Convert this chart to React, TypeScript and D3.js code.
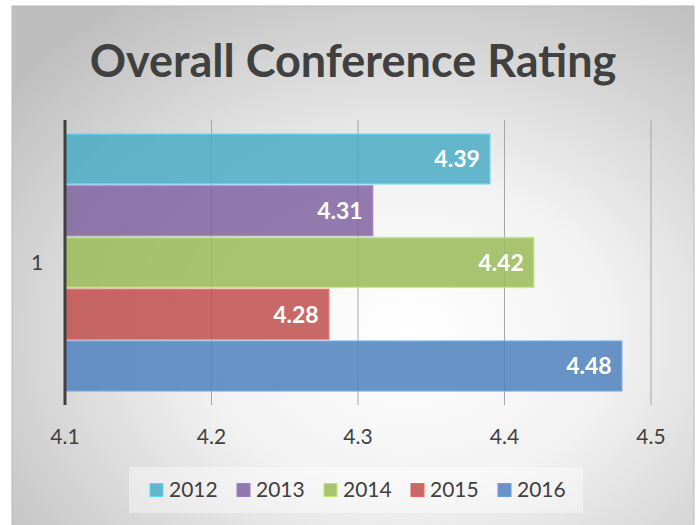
import React from "react";
import * as d3 from "d3";

const years = ["2012", "2013", "2014", "2015", "2016"];
const ratings = [4.39, 4.31, 4.42, 4.28, 4.48];
const colors = ["#4bacc6", "#8064a2", "#9bbb59", "#c0504d", "#4f81bd"];
const xTicks = [4.1, 4.2, 4.3, 4.4, 4.5];
const category = "1";

const W = 699;
const H = 525;
const font = "Lato, 'Open Sans', sans-serif";

const App = () => {
    // plot area
    const left = 65, right = 651, top = 120, bottom = 405;

    const x = d3.scaleLinear().domain([4.1, 4.5]).range([left, right]);

    // one category, five series stacked as sub-bands
    const outer = d3.scaleBand().domain([category]).range([top, bottom]).paddingInner(0).paddingOuter(0.055);
    const inner = d3.scaleBand().domain(years).range([0, outer.bandwidth()]).paddingInner(0.04);

    const legendX = d3.scaleBand().domain(years).range([150, 585]);

    return (
        <svg width={W} height={H} style={{ position: "absolute", left: 0, top: 0 }}>
            <defs>
                <radialGradient id="bg" cx="0.58" cy="0.62" r="0.75">
                    <stop offset="0" stopColor="#ffffff" />
                    <stop offset="0.4" stopColor="#f2f2f2" />
                    <stop offset="1" stopColor="#bebebe" />
                </radialGradient>
            </defs>
            <rect x={0} y={0} width={W} height={H} fill="#ffffff" />
            <rect x={12} y={6} width={682} height={530} fill="url(#bg)" stroke="#b8b8b8" strokeWidth={1} />

            {/* title */}
            <text x={353} y={77} textAnchor="middle" fontFamily={font} fontWeight="bold" fontSize={45} fill="#404040">
                Overall Conference Rating
            </text>

            {/* gridlines */}
            {xTicks.slice(1).map(t => (
                <line key={t} x1={x(t)} x2={x(t)} y1={top} y2={bottom} stroke="#a6a6a6" strokeWidth={1} />
            ))}

            {/* bars */}
            {years.map((yr, i) => {
                const y0 = outer(category)! + inner(yr)!;
                const h = inner.bandwidth();
                return (
                    <g key={yr}>
                        <rect x={x(4.1)} y={y0} width={x(ratings[i]) - x(4.1)} height={h}
                            fill={colors[i]} fillOpacity={0.85}
                            stroke={d3.color(colors[i])!.brighter(0.6).formatHex()} strokeOpacity={0.8} strokeWidth={1.5} />
                        <text x={x(ratings[i]) - 10} y={y0 + h / 2} dy="0.36em" textAnchor="end"
                            fontFamily={font} fontWeight="bold" fontSize={23} fill="#ffffff">
                            {ratings[i].toFixed(2)}
                        </text>
                    </g>
                );
            })}

            {/* vertical axis */}
            <line x1={left} x2={left} y1={top} y2={bottom} stroke="#404040" strokeWidth={3} />
            <text x={37} y={outer(category)! + outer.bandwidth() / 2} dy="0.35em" textAnchor="middle"
                fontFamily={font} fontSize={21} fill="#404040">{category}</text>

            {/* x tick labels */}
            {xTicks.map(t => (
                <text key={t} x={x(t)} y={437} dy="0.35em" textAnchor="middle"
                    fontFamily={font} fontSize={21} fill="#404040">{t.toFixed(1)}</text>
            ))}

            {/* legend */}
            <rect x={129} y={467} width={454} height={46} fill="#ffffff" fillOpacity={0.4} />
            {years.map((yr, i) => (
                <g key={yr} transform={`translate(${legendX(yr)},490)`}>
                    <rect x={0} y={-6.5} width={13} height={13} fill={colors[i]} fillOpacity={0.85}
                        stroke={d3.color(colors[i])!.brighter(0.6).formatHex()} strokeWidth={1} />
                    <text x={19} y={0} dy="0.35em" fontFamily={font} fontSize={21} fill="#404040">{yr}</text>
                </g>
            ))}
        </svg>
    );
};

export default App;
